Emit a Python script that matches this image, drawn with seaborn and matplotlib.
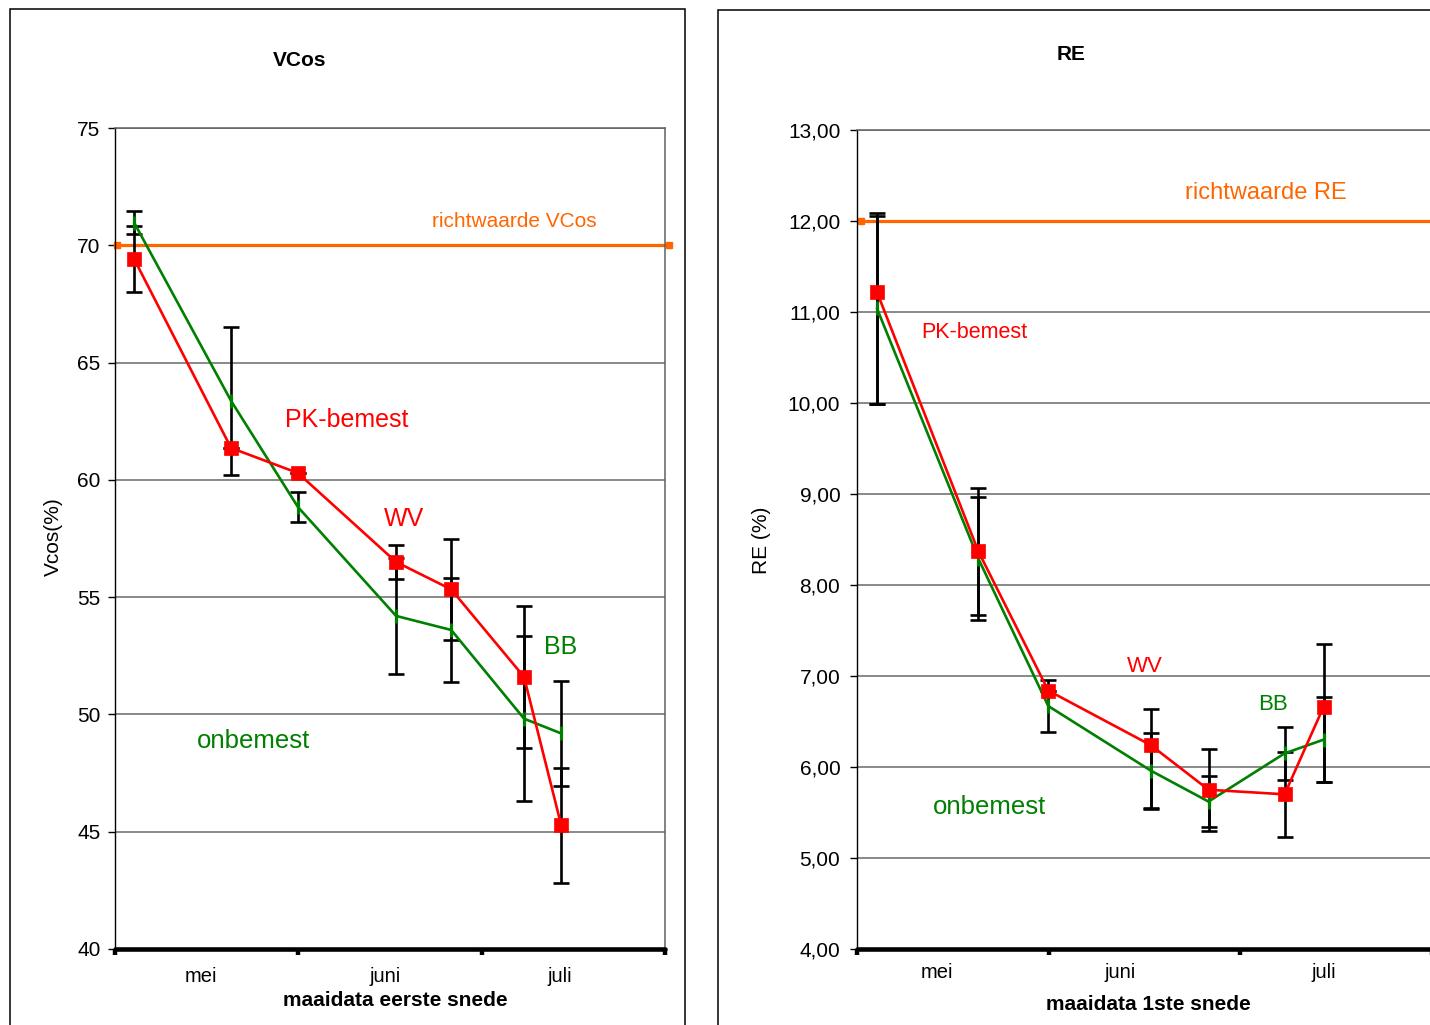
import numpy as np
import pandas as pd
import matplotlib
matplotlib.use("Agg")
import matplotlib.pyplot as plt
import seaborn as sns
from matplotlib.patches import Rectangle
from matplotlib.ticker import FuncFormatter

# Cutting moments of the first cut, expressed in months after 1 May
cut_time = [0.104, 0.633, 0.998, 1.533, 1.834, 2.231, 2.434]
month_names = ["mei", "juni", "juli"]
month_label_pos_vcos = [0.469, 1.473, 2.428]
month_label_pos_re = [0.418, 1.375, 2.436]

# VCos (%) with error margins
vcos_pk = [69.42, 61.36, 60.29, 56.50, 55.33, 51.60, 45.27]
vcos_pk_err = [1.41, 0.0, 0.0, 0.72, 2.15, 3.03, 2.45]
vcos_onb = [70.97, 63.37, 58.84, 54.20, 53.60, 49.82, 49.19]
vcos_onb_err = [0.49, 3.15, 0.64, 2.47, 2.22, 3.52, 2.24]
vcos_norm = 70.0

# RE (%) with error margins (lower / upper)
re_pk = [11.22, 8.37, 6.84, 6.24, 5.75, 5.70, 6.66]
re_pk_err_low = [1.23, 0.70, 0.0, 0.70, 0.45, 0.47, 0.82]
re_pk_err_high = [0.83, 0.70, 0.0, 0.40, 0.45, 0.46, 0.69]
re_onb = [11.04, 8.29, 6.67, 5.96, 5.62, 6.15, 6.30]
re_onb_err = [1.05, 0.68, 0.29, 0.41, 0.28, 0.29, 0.47]
re_norm = 12.0

RED = "#FF0000"
GREEN = "#008000"
ORANGE = "#FF6600"
GRID = "#808080"

sns.set_theme(style="white")
plt.rcParams["font.family"] = ["Liberation Sans", "DejaVu Sans"]
plt.rcParams["text.color"] = "black"
plt.rcParams["axes.labelcolor"] = "black"
plt.rcParams["xtick.color"] = "black"
plt.rcParams["ytick.color"] = "black"

W, H = 1430, 1025
fig = plt.figure(figsize=(W / 100, H / 100), dpi=100)
fig.patch.set_facecolor("white")


def px_axes(x0, y0, x1, y1):
    return fig.add_axes([x0 / W, 1 - y1 / H, (x1 - x0) / W, (y1 - y0) / H])


# chart frames
fig.add_artist(Rectangle((10 / W, -0.05), 675 / W, 1 - 9 / H + 0.05,
                         transform=fig.transFigure, fill=False,
                         ec="black", lw=1.1))
fig.add_artist(Rectangle((718 / W, -0.05), 0.6, 1 - 10 / H + 0.05,
                         transform=fig.transFigure, fill=False,
                         ec="black", lw=1.1))


def draw_panel(ax, pk, pk_err, onb, onb_err, norm, norm_x, ylim, ystep,
               yfmt, month_pos, label_pad, ytick_pad):
    ax.set_facecolor("white")
    ax.set_xlim(0, 3)
    ax.set_ylim(*ylim)

    # horizontal grid
    ax.set_yticks(np.arange(ylim[0], ylim[1] + ystep / 2, ystep))
    ax.yaxis.grid(True, color=GRID, lw=1.3, zorder=0)
    ax.set_axisbelow(True)

    # reference value line
    ax.plot(norm_x, [norm, norm], color=ORANGE, lw=2.3, marker="s",
            ms=4, clip_on=False, zorder=2)

    # error bars
    ax.errorbar(cut_time, onb, yerr=onb_err, fmt="none", ecolor="black",
                elinewidth=1.9, capsize=5.8, capthick=1.9, zorder=3)
    ax.errorbar(cut_time, pk, yerr=pk_err, fmt="none", ecolor="black",
                elinewidth=1.9, capsize=5.8, capthick=1.9, zorder=3)

    df = pd.DataFrame({"t": cut_time, "onb": onb, "pk": pk})
    sns.lineplot(data=df, x="t", y="onb", ax=ax, color=GREEN, lw=1.9,
                 marker="|", ms=10.5, markeredgewidth=2.3,
                 markeredgecolor=GREEN, estimator=None, sort=False,
                 zorder=4)
    sns.lineplot(data=df, x="t", y="pk", ax=ax, color=RED, lw=1.9,
                 marker="s", ms=10, markeredgewidth=0.5,
                 markeredgecolor=RED, estimator=None, sort=False,
                 zorder=5)

    # x axis: month boundaries and month names
    ax.set_xticks([0, 1, 2, 3])
    ax.set_xticklabels([])
    ax.set_xticks(month_pos, minor=True)
    ax.set_xticklabels(month_names, minor=True, fontsize=14.5)
    ax.tick_params(axis="x", which="major", direction="out", length=4,
                   width=3.2, color="black", bottom=True)
    ax.tick_params(axis="x", which="minor", length=0, pad=label_pad,
                   bottom=True)
    ax.tick_params(axis="y", which="major", direction="out", length=5,
                   width=1, color="black", left=True, pad=ytick_pad,
                   labelsize=15)
    ax.yaxis.set_major_formatter(FuncFormatter(yfmt))

    for side in ("top", "right"):
        ax.spines[side].set_color("#606060")
        ax.spines[side].set_linewidth(1.1)
    ax.spines["left"].set_color("black")
    ax.spines["left"].set_linewidth(1.0)
    ax.spines["bottom"].set_color("black")
    ax.spines["bottom"].set_linewidth(3.3)
    ax.spines["bottom"].set_capstyle("round")
    for sp in ax.spines.values():
        sp.set_zorder(6)
    ax.set_xlabel("")
    ax.set_ylabel("")


# ---- VCos panel ----
ax1 = px_axes(115, 128, 665, 949)
draw_panel(ax1, vcos_pk, vcos_pk_err, vcos_onb, vcos_onb_err, vcos_norm,
           [0.011, 3.022], (40, 75), 5, lambda v, _: f"{v:.0f}",
           month_label_pos_vcos, 12.6, 5.5)
ax1.set_title("VCos", fontsize=15, fontweight="bold", x=0.336, y=1.0716,
              va="center")
ax1.set_ylabel("Vcos(%)", fontsize=15)
ax1.yaxis.set_label_coords(-0.1127, 0.502)
ax1.yaxis.label.set_va("center")
ax1.set_xlabel("maaidata eerste snede", fontsize=15, fontweight="bold")
ax1.xaxis.set_label_coords(0.509, -0.0633)
ax1.xaxis.label.set_va("center")

ax1.text(2.177, 71.0, "richtwaarde VCos", color=ORANGE, fontsize=15,
         ha="center", va="center")
ax1.text(1.265, 62.55, "PK-bemest", color=RED, fontsize=18,
         ha="center", va="center")
ax1.text(1.576, 58.33, "WV", color=RED, fontsize=18, ha="center",
         va="center")
ax1.text(2.428, 52.87, "BB", color=GREEN, fontsize=18, ha="center",
         va="center")
ax1.text(0.753, 48.87, "onbemest", color=GREEN, fontsize=18.5,
         ha="center", va="center")

# ---- RE panel ----
ax2 = px_axes(857, 130, 1432, 949)
draw_panel(ax2, re_pk, [re_pk_err_low, re_pk_err_high], re_onb, re_onb_err,
           re_norm, [0.021, 3.1], (4, 13), 1,
           lambda v, _: f"{v:.2f}".replace(".", ","),
           month_label_pos_re, 10.1, 7.0)
ax2.set_title("RE", fontsize=15, fontweight="bold", x=0.373, y=1.0818,
              va="center")
ax2.set_ylabel("RE (%)", fontsize=15)
ax2.yaxis.set_label_coords(-0.1655, 0.4994)
ax2.yaxis.label.set_va("center")
ax2.set_xlabel("maaidata 1ste snede", fontsize=15, fontweight="bold")
ax2.xaxis.set_label_coords(0.507, -0.0672)
ax2.xaxis.label.set_va("center")

ax2.text(2.133, 12.31, "richtwaarde RE", color=ORANGE, fontsize=17,
         ha="center", va="center")
ax2.text(0.611, 10.77, "PK-bemest", color=RED, fontsize=15.5,
         ha="center", va="center")
ax2.text(1.500, 7.10, "WV", color=RED, fontsize=16, ha="center",
         va="center")
ax2.text(2.169, 6.69, "BB", color=GREEN, fontsize=16, ha="center",
         va="center")
ax2.text(0.690, 5.56, "onbemest", color=GREEN, fontsize=18.5,
         ha="center", va="center")

fig.savefig("out.png", dpi=100, facecolor="white")
